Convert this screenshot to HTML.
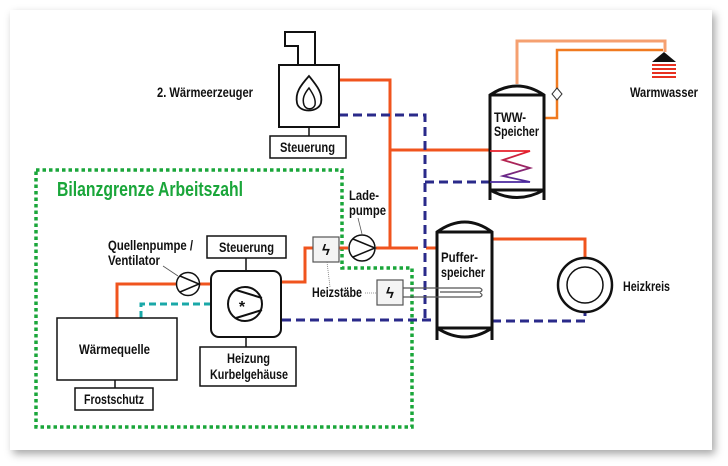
<!DOCTYPE html>
<html><head><meta charset="utf-8"><style>
html,body{margin:0;padding:0;background:#fff;}
body{width:728px;height:466px;position:relative;overflow:hidden;}
.card{position:absolute;left:10px;top:10px;width:702px;height:440px;background:#fff;box-shadow:3px 4px 8px rgba(0,0,0,0.35);}
svg{position:absolute;left:0;top:0;}
text{font-family:"Liberation Sans",sans-serif;font-weight:bold;font-size:14px;fill:#111;}
</style></head><body>
<div class="card"></div>
<svg width="728" height="466" viewBox="0 0 728 466">
<defs>
<linearGradient id="coil" x1="0" y1="0" x2="0" y2="1"><stop offset="0" stop-color="#e8202a"/><stop offset="1" stop-color="#4a2aa0"/></linearGradient>
</defs>
<path d="M36 170 H342 V268 H412 V427 H36 Z" fill="none" stroke="#1aa63a" stroke-width="3.5" stroke-dasharray="3.5 3"/>
<text x="57" y="196" textLength="186" lengthAdjust="spacingAndGlyphs" style="font-size:20px;fill:#1aa63a">Bilanzgrenze Arbeitszahl</text>

<g fill="none" stroke="#f0541e" stroke-width="3">
<path d="M339 80 H390 V248"/>
<path d="M390 150 H496"/>
<path d="M376 248 H418 M426 248 H437"/>
<path d="M282 282 H305 V248 H313"/>
<path d="M339 248 H348"/>
<path d="M492 239 H585 V259"/>
<path d="M117 318 V284 H176"/>
<path d="M200 284 H210"/>
</g>
<path d="M517 84 V41 H665 V52" fill="none" stroke="#f5a070" stroke-width="3"/>
<path d="M544 118 H557 V50 H663" fill="none" stroke="#f07a20" stroke-width="2.5"/>
<path d="M557 88 L562 94 L557 100 L552 94 Z" fill="#fff" stroke="#333" stroke-width="1"/>
<path d="M664 52 L652 62 H676 Z" fill="#111"/>
<g fill="#e83020"><rect x="652" y="64" width="24" height="2"/><rect x="652" y="68" width="24" height="2"/><rect x="652" y="72" width="24" height="2"/><rect x="652" y="76" width="24" height="2"/></g>
<text x="630" y="97" textLength="68" lengthAdjust="spacingAndGlyphs">Warmwasser</text>

<g fill="none" stroke="#2a2a8a" stroke-width="3" stroke-dasharray="9 5">
<path d="M339 115 H425 V320"/>
<path d="M425 182 H496"/>
<path d="M282 320 H437"/>
<path d="M492 321 H585 V313"/>
</g>
<path d="M141 318 V304 H210" fill="none" stroke="#1aa8a8" stroke-width="3" stroke-dasharray="7 4"/>

<path d="M298 65 V46 H285 V32 H315 V65" fill="none" stroke="#111" stroke-width="2"/>
<rect x="279" y="65" width="60" height="62" fill="#fff" stroke="#111" stroke-width="2"/>
<path d="M309 76 C300 86 295 93 297 103 C299 113 318 113 321 103 C323 93 317 86 309 76 Z" fill="none" stroke="#111" stroke-width="1.8"/>
<path d="M309 88 C304 94 302 99 304 105 C306 110 313 110 315 105 C316 99 313 94 309 88 Z" fill="none" stroke="#111" stroke-width="1.5"/>
<line x1="309" y1="127" x2="309" y2="136" stroke="#111" stroke-width="1.5"/>
<rect x="270" y="136" width="76" height="22" fill="#fff" stroke="#111" stroke-width="1.5"/>
<text x="280" y="152" textLength="55" lengthAdjust="spacingAndGlyphs">Steuerung</text>
<text x="157" y="97" textLength="96" lengthAdjust="spacingAndGlyphs">2. Wärmeerzeuger</text>

<path d="M490 95 Q517 77 544 95 V190 Q517 205 490 190 Z" fill="#fff" stroke="#111" stroke-width="3"/>
<line x1="490" y1="95" x2="544" y2="95" stroke="#111" stroke-width="3"/>
<line x1="490" y1="190" x2="544" y2="190" stroke="#111" stroke-width="3"/>
<path d="M490 190 V200 M544 190 V200" stroke="#111" stroke-width="3"/>
<text x="494" y="122" textLength="32" lengthAdjust="spacingAndGlyphs">TWW-</text>
<text x="494" y="136" textLength="45" lengthAdjust="spacingAndGlyphs">Speicher</text>
<path d="M490 151 H530 L503 160 L530 168 L503 176 L530 182 H490" fill="none" stroke="url(#coil)" stroke-width="1.8"/>

<path d="M437 232 Q465 212 492 232 V328 Q465 346 437 328 Z" fill="#fff" stroke="#111" stroke-width="3"/>
<line x1="437" y1="232" x2="492" y2="232" stroke="#111" stroke-width="3"/>
<line x1="437" y1="328" x2="492" y2="328" stroke="#111" stroke-width="3"/>
<path d="M437 328 V340 M492 328 V340" stroke="#111" stroke-width="3"/>
<text x="441" y="262" textLength="37" lengthAdjust="spacingAndGlyphs">Puffer-</text>
<text x="441" y="277" textLength="44" lengthAdjust="spacingAndGlyphs">speicher</text>
<g stroke="#555" stroke-width="1.2" fill="none">
<path d="M403 288 H480 Q484 290 480 292 H440"/>
<path d="M403 297 H480 Q484 295 480 293"/>
</g>

<circle cx="585" cy="285" r="27" fill="#fff" stroke="#111" stroke-width="2.5"/>
<circle cx="585" cy="285" r="18" fill="none" stroke="#111" stroke-width="1.5"/>
<text x="623" y="291" textLength="47" lengthAdjust="spacingAndGlyphs">Heizkreis</text>

<rect x="313" y="237" width="26" height="25" fill="#f4f4f4" stroke="#555" stroke-width="1.2"/>
<text x="326" y="255" text-anchor="middle" style="font-size:15px">ϟ</text>
<rect x="377" y="280" width="26" height="25" fill="#f4f4f4" stroke="#555" stroke-width="1.2"/>
<text x="390" y="298" text-anchor="middle" style="font-size:15px">ϟ</text>
<text x="312" y="297" textLength="50" lengthAdjust="spacingAndGlyphs">Heizstäbe</text>
<path d="M327 262 L330 287 M365 293 H376" stroke="#777" stroke-width="0.8" stroke-dasharray="1 1" fill="none"/>

<circle cx="362" cy="248" r="13" fill="#fff" stroke="#111" stroke-width="1.5"/>
<path d="M353 239 L375 248 L353 257" fill="none" stroke="#111" stroke-width="1.5"/>
<text x="349" y="200" textLength="30" lengthAdjust="spacingAndGlyphs">Lade-</text>
<text x="349" y="215" textLength="37" lengthAdjust="spacingAndGlyphs">pumpe</text>
<line x1="358" y1="218" x2="362" y2="234" stroke="#555" stroke-width="0.8"/>

<line x1="246" y1="258" x2="246" y2="271" stroke="#111" stroke-width="1.5"/>
<rect x="207" y="236" width="79" height="22" fill="#fff" stroke="#111" stroke-width="1.5"/>
<text x="219" y="252" textLength="55" lengthAdjust="spacingAndGlyphs">Steuerung</text>
<rect x="211" y="271" width="70" height="66" rx="8" fill="#fff" stroke="#111" stroke-width="2"/>
<circle cx="245" cy="304" r="17" fill="#fff" stroke="#111" stroke-width="2"/>
<path d="M236 290 L262 298 M236 318 L262 310" stroke="#111" stroke-width="2"/>
<text x="242" y="312" text-anchor="middle" style="font-size:16px">*</text>
<line x1="246" y1="337" x2="246" y2="347" stroke="#111" stroke-width="1.5"/>
<rect x="200" y="347" width="96" height="39" fill="#fff" stroke="#111" stroke-width="1.5"/>
<text x="227" y="363" textLength="43" lengthAdjust="spacingAndGlyphs">Heizung</text>
<text x="210" y="379" textLength="78" lengthAdjust="spacingAndGlyphs">Kurbelgehäuse</text>

<circle cx="188" cy="284" r="11.5" fill="#fff" stroke="#111" stroke-width="1.5"/>
<path d="M180 276 L199 284 L180 292" fill="none" stroke="#111" stroke-width="1.5"/>
<text x="108" y="250" textLength="85" lengthAdjust="spacingAndGlyphs">Quellenpumpe /</text>
<text x="108" y="265" textLength="52" lengthAdjust="spacingAndGlyphs">Ventilator</text>
<line x1="163" y1="266" x2="178" y2="276" stroke="#555" stroke-width="0.8"/>

<rect x="57" y="318" width="120" height="62" fill="#fff" stroke="#111" stroke-width="1.5"/>
<text x="79" y="354" textLength="71" lengthAdjust="spacingAndGlyphs">Wärmequelle</text>
<line x1="115" y1="380" x2="115" y2="388" stroke="#111" stroke-width="1.5"/>
<rect x="75" y="388" width="78" height="22" fill="#fff" stroke="#111" stroke-width="1.5"/>
<text x="84" y="404" textLength="60" lengthAdjust="spacingAndGlyphs">Frostschutz</text>
</svg>
</body></html>
